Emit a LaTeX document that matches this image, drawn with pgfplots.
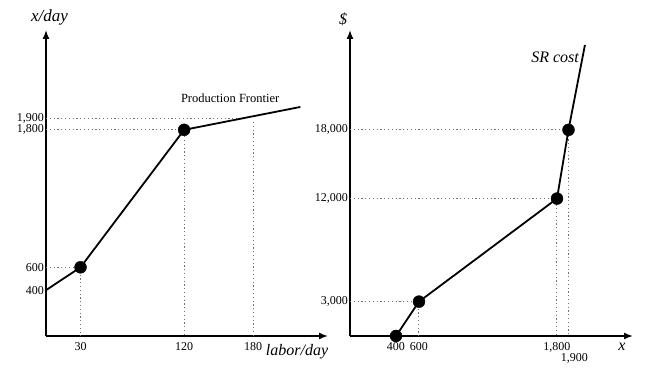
\documentclass[border=0pt]{standalone}
\usepackage{pgfplots}
\pgfplotsset{compat=1.18}
\usepackage{fontspec}
\setmainfont{Liberation Serif}
\usetikzlibrary{arrows.meta}
\pgfplotsset{
  econ/.style={
    scale only axis, clip=false,
    axis lines=left,
    axis line style={line width=1.5pt, -{Latex[length=9pt,width=7pt]}},
    major tick length=0pt,
    scaled ticks=false,
    tick label style={font=\fontsize{12}{12}\selectfont},
    yticklabel style={inner sep=2pt},
    xticklabel style={inner sep=3pt, yshift=-3pt},
  },
  curve/.style={line width=1.8pt, black, mark=none},
  dots/.style={only marks, mark=*, mark size=6pt, black},
  guide/.style={line width=1pt, black!55, dash pattern=on 1.2pt off 2.6pt, mark=none},
}
\begin{document}
\begin{tikzpicture}
\path (-46pt,-43pt) rectangle (600pt,336pt);
% Left: production frontier
\begin{axis}[econ, at={(0pt,0pt)}, anchor=south west,
  width=282pt, height=306pt,
  xmin=0, xmax=245, ymin=0, ymax=2672,
  xtick={30,120,180}, xticklabels={30,120,180},
  ytick={400,600,1800,1900}, yticklabels={400,600,{1,800},{1,900}}]
  \addplot[guide] coordinates {(0,1900) (170,1900)};
  \addplot[guide] coordinates {(0,1800) (120,1800) (120,0)};
  \addplot[guide] coordinates {(0,600) (30,600) (30,0)};
  \addplot[guide] coordinates {(180,0) (180,1870)};
  \addplot[curve] coordinates {(0,400) (30,600) (120,1800) (221,2000)};
  \addplot[dots] coordinates {(30,600) (120,1800)};
  \node[anchor=south, font=\fontsize{17}{17}\selectfont\itshape, yshift=1pt] at (axis cs:3,2672) {x/day};
  \node[anchor=west, font=\fontsize{16}{16}\selectfont\itshape, yshift=-16pt] at (axis cs:188,0) {labor/day};
  \node[font=\fontsize{12.5}{13}\selectfont] at (axis cs:160,2079) {Production Frontier};
\end{axis}
% Right: short-run cost
\begin{axis}[econ, at={(304pt,0pt)}, anchor=south west,
  width=283pt, height=306pt,
  xmin=0, xmax=2461, ymin=0, ymax=26725,
  xtick={400,600,1800,1900}, xticklabels={400,600,{1,800},{}},
  ytick={3000,12000,18000}, yticklabels={{3,000},{12,000},{18,000}}]
  \addplot[guide] coordinates {(0,18000) (1900,18000) (1900,0)};
  \addplot[guide] coordinates {(0,12000) (1800,12000) (1800,0)};
  \addplot[guide] coordinates {(0,3000) (600,3000) (600,0)};
  \addplot[curve] coordinates {(0,0) (400,0) (600,3000) (1800,12000) (1900,18000) (2043,25415)};
  \addplot[dots] coordinates {(400,0) (600,3000) (1800,12000) (1900,18000)};
  \node[anchor=north, font=\fontsize{12}{12}\selectfont, xshift=6pt, yshift=-14pt] at (axis cs:1900,0) {1,900};
  \node[anchor=south, font=\fontsize{16}{16}\selectfont\itshape, xshift=-7pt, yshift=1pt] at (axis cs:0,26725) {\$};
  \node[font=\fontsize{16}{16}\selectfont\itshape] at (axis cs:1783,24367) {SR cost};
  \node[font=\fontsize{16}{16}\selectfont\itshape, yshift=-11pt] at (axis cs:2365,0) {x};
\end{axis}
\end{tikzpicture}
\end{document}
